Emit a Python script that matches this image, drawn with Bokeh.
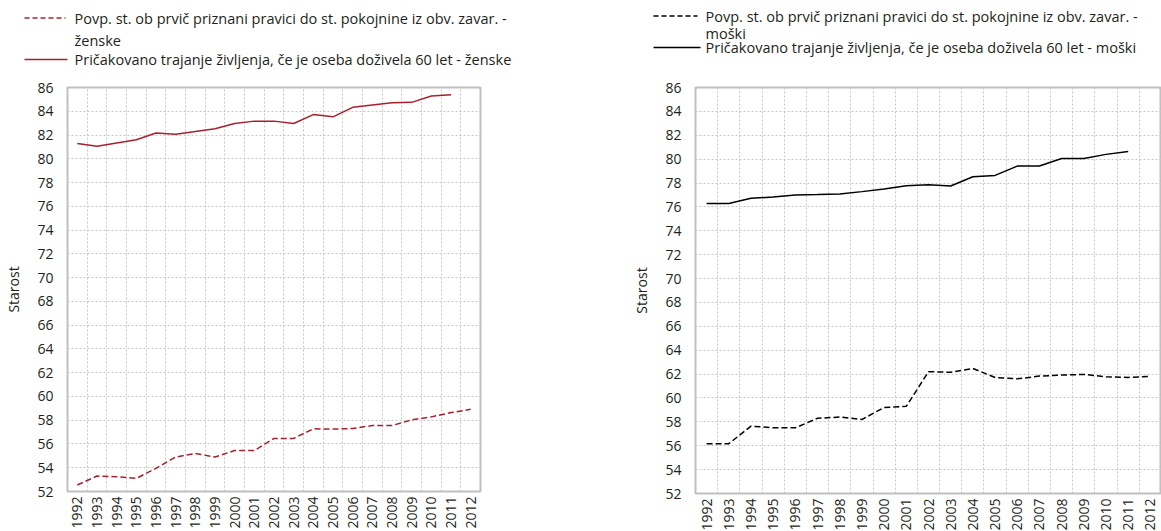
import math
from bokeh.plotting import figure
from bokeh.layouts import row, column
from bokeh.models import FixedTicker, Range1d
from bokeh.core.properties import value
from bokeh.embed import file_html
from bokeh.resources import INLINE

# ---------------- data ----------------
years = list(range(1992, 2013))
y_ticks = list(range(52, 87, 2))
Y_MIN, Y_MAX = 52, 86

women_pension = [52.55, 53.3, 53.25, 53.1, 53.95, 54.9, 55.2, 54.9, 55.45, 55.45, 56.47,
                 56.47, 57.28, 57.25, 57.3, 57.55, 57.55, 58.03, 58.28, 58.64, 58.92]
women_life = [81.28, 81.06, 81.33, 81.6, 82.17, 82.06, 82.3, 82.53, 82.97, 83.17, 83.17,
              82.97, 83.72, 83.53, 84.33, 84.53, 84.72, 84.75, 85.28, 85.39]
men_pension = [56.17, 56.17, 57.64, 57.5, 57.5, 58.3, 58.4, 58.2, 59.2, 59.3, 62.2,
               62.15, 62.47, 61.72, 61.6, 61.83, 61.92, 61.97, 61.78, 61.72, 61.8]
men_life = [76.28, 76.28, 76.72, 76.83, 77.0, 77.03, 77.08, 77.28, 77.5, 77.78, 77.86,
            77.75, 78.53, 78.64, 79.42, 79.42, 80.05, 80.05, 80.4, 80.64]

women_labels = ["Povp. st. ob prvič priznani pravici do st. pokojnine iz obv. zavar. -",
                "ženske",
                "Pričakovano trajanje življenja, če je oseba doživela 60 let - ženske"]
men_labels = ["Povp. st. ob prvič priznani pravici do st. pokojnine iz obv. zavar. -",
              "moški",
              "Pričakovano trajanje življenja, če je oseba doživela 60 let - moški"]
y_title = "Starost"

# ---------------- style ----------------
FONT = "Open Sans"
TXT = "#231f20"
GRID = "#c6c6c6"
BORDER = "#c0c0c0"
RED = "#a8202e"
BLACK = "#000000"
DASH = "6 3"

PAGE_W = 1161
LEG_H = 77


def chart(fw, fh, lb, rb, tb, bb, pension, life, color):
    p = figure(frame_width=fw, frame_height=fh,
               min_border_left=lb, min_border_right=rb, min_border_top=tb, min_border_bottom=bb,
               x_range=Range1d(years[0] - 0.5, years[-1] + 0.5), y_range=Range1d(Y_MIN, Y_MAX),
               output_backend="svg", toolbar_location=None)
    p.background_fill_color = "white"
    p.border_fill_color = "white"
    p.outline_line_color = BORDER
    p.outline_line_width = 2

    p.xaxis.ticker = FixedTicker(ticks=years)
    p.yaxis.ticker = FixedTicker(ticks=y_ticks)
    p.xgrid.ticker = FixedTicker(ticks=[y + 0.5 for y in years[:-1]])
    p.ygrid.ticker = FixedTicker(ticks=y_ticks)
    for g in (p.xgrid, p.ygrid):
        g.grid_line_color = GRID
        g.grid_line_dash = "2 2"
        g.grid_line_width = 1

    for ax in (p.xaxis, p.yaxis):
        ax.axis_line_color = None
        ax.major_tick_line_color = None
        ax.minor_tick_line_color = None
        ax.major_tick_out = 0
        ax.major_label_text_font = FONT
        ax.major_label_text_color = TXT
        ax.major_label_text_font_size = "14px"
    p.xaxis.major_label_orientation = math.pi / 2
    p.xaxis.major_label_standoff = 5
    p.yaxis.major_label_standoff = 14
    p.yaxis.axis_label = y_title
    p.yaxis.axis_label_text_font = FONT
    p.yaxis.axis_label_text_font_size = "14px"
    p.yaxis.axis_label_text_font_style = "normal"
    p.yaxis.axis_label_text_color = TXT
    p.yaxis.axis_label_standoff = 11

    p.line(years[:len(pension)], pension, line_color=color, line_width=1.5, line_dash=DASH)
    p.line(years[:len(life)], life, line_color=color, line_width=1.5)
    return p


# legend strip: one figure in pixel units (x from the page's left, y from the page's top)
leg = figure(width=PAGE_W, height=LEG_H, x_range=Range1d(0, PAGE_W),
             y_range=Range1d(LEG_H, 0), min_border=0,
             x_axis_location=None, y_axis_location=None,
             output_backend="svg", toolbar_location=None)
leg.grid.visible = False
leg.outline_line_color = None


def add_legend(color, labels, x0, x1d, x1s, tx, yd, yt2, ys):
    leg.line([x0, x1d], [yd, yd], line_color=color, line_width=1.3, line_dash="5 3")
    leg.line([x0, x1s], [ys, ys], line_color=color, line_width=1.3)
    leg.text(x=[tx, tx, tx], y=[yd, yt2, ys], text=labels,
             text_font=value(FONT), text_font_size="14.5px", text_color=TXT,
             text_baseline="middle", text_align="left")


add_legend(RED, women_labels, 24, 65, 67, 74, 17.5, 39.5, 59)
add_legend(BLACK, men_labels, 653, 697, 700, 705, 15.5, 32.5, 47)

left_chart = chart(413, 404, 67, 80, 8, 42, women_pension, women_life, RED)
right_chart = chart(466, 406, 135, 0, 10, 38, men_pension, men_life, BLACK)

layout = column(leg, row(left_chart, right_chart))

open("out.html", "w").write(file_html(layout, INLINE))
